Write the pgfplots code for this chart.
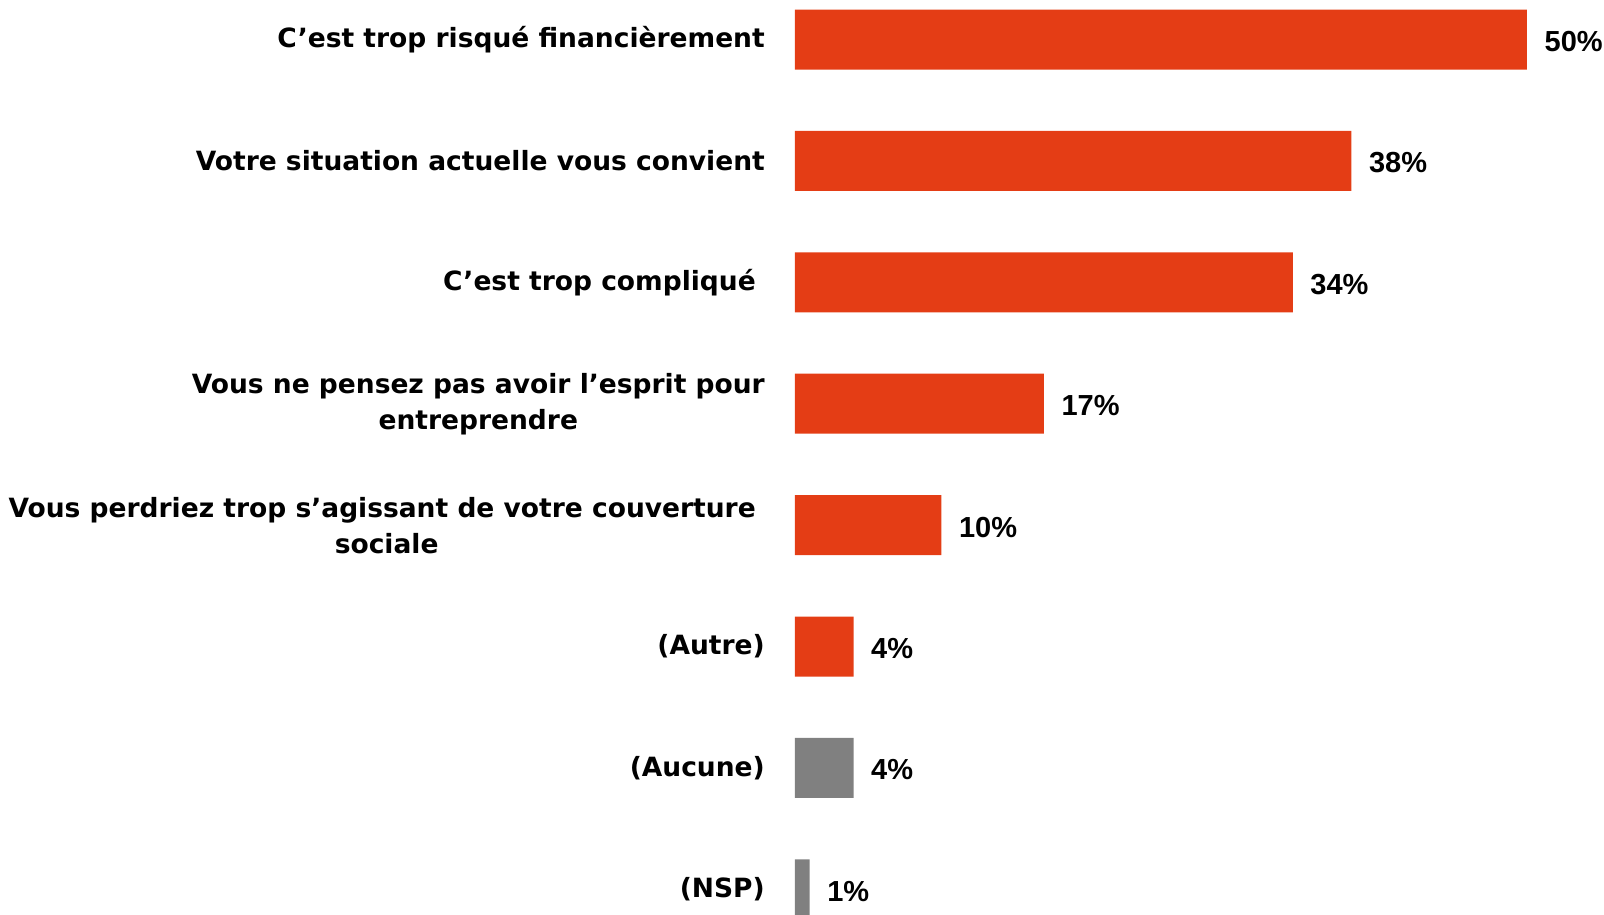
\documentclass[border=0pt]{standalone}
\usepackage{pgfplots}
\pgfplotsset{compat=1.18}
\usepackage{fontspec}
\setmainfont{DejaVu Sans}
\newfontfamily\valfont{Liberation Sans}
\definecolor{barred}{HTML}{E43D15}
\definecolor{bargrey}{HTML}{808080}
\begin{document}
\begin{tikzpicture}
\path[use as bounding box, clip] (-795pt,-874.5pt) rectangle (809pt,39.5pt);
\begin{axis}[
  at={(0pt,0pt)}, anchor=origin,
  x=14.64pt, y=121.4pt, y dir=reverse,
  xmin=0, xmax=55, ymin=-0.5, ymax=7.5,
  axis line style={draw=none},
  tick style={draw=none},
  major tick length=0pt,
  xtick=\empty,
  ytick={0,1,2,3,4,5,6,7},
  yticklabels={
    {C’est trop risqué financièrement},
    {Votre situation actuelle vous convient},
    {C’est trop compliqué\hspace*{9pt}},
    {Vous ne pensez pas avoir l’esprit pour\\entreprendre},
    {Vous perdriez trop s’agissant de votre couverture\hspace*{9pt}\\sociale},
    {(Autre)},
    {(Aucune)},
    {(NSP)}},
  yticklabel style={font=\fontsize{26.5}{36}\selectfont\bfseries, align=center, anchor=east, inner sep=0pt, xshift=-30pt},
  clip=false,
  /pgf/number format/assume math mode=true,
  nodes near coords={\pgfmathprintnumber{\pgfplotspointmeta}\%},
  point meta=x,
  every node near coord/.append style={font=\valfont\fontsize{29}{30}\selectfont\bfseries, anchor=west, inner sep=0pt, xshift=17.5pt, yshift=-2pt, text=black},
]
\addplot[xbar, bar shift=0pt, bar width=60pt, fill=barred, draw=none]
  coordinates {(50,0) (38,1) (34,2) (17,3) (10,4) (4,5)};
\addplot[xbar, bar shift=0pt, bar width=60pt, fill=bargrey, draw=none]
  coordinates {(4,6) (1,7)};
\end{axis}
\end{tikzpicture}
\end{document}
